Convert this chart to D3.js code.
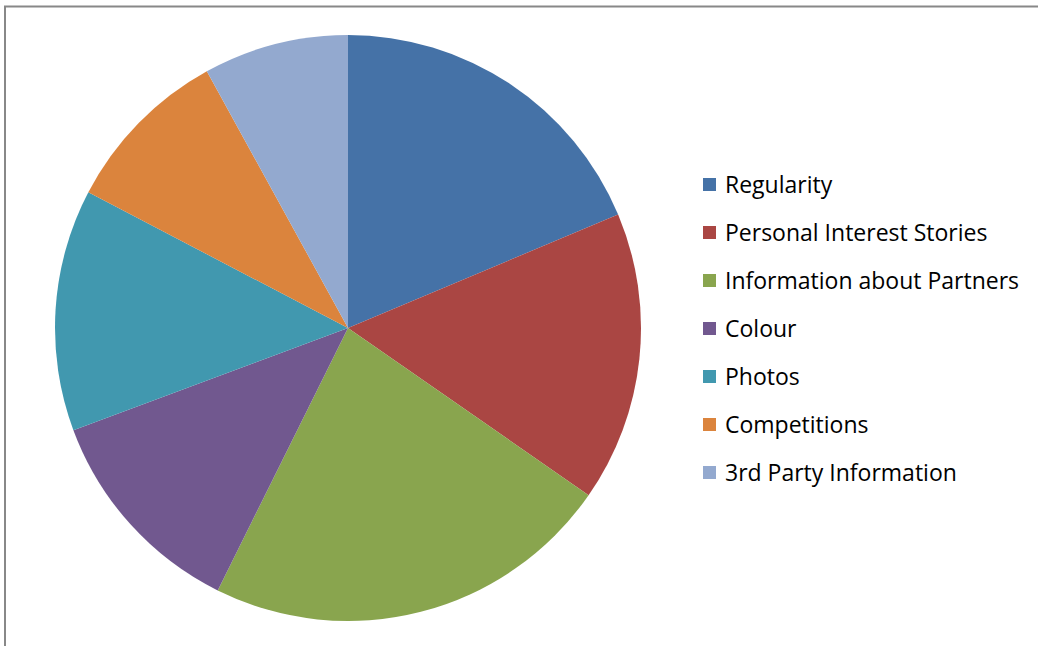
<!DOCTYPE html>
<html>
<head>
<meta charset="utf-8">
<script src="https://cdn.jsdelivr.net/npm/d3@7"></script>
<style>
  body { margin: 0; background: #fff; }
  svg { display: block; }
</style>
</head>
<body>
<div id="chart"></div>
<script>
// Chart data
const categories = ['Regularity', 'Personal Interest Stories', 'Information about Partners',
    'Colour', 'Photos', 'Competitions', '3rd Party Information'];
const values = [14, 12, 17, 9, 10, 7, 6];
const colors = ['#4572A7', '#AA4643', '#89A54E', '#71588F', '#4198AF', '#DB843D', '#93A9CF'];

const width = 1038, height = 646;

const svg = d3.select('#chart')
    .append('svg')
    .attr('width', width)
    .attr('height', height);

// Chart area border (top and left visible)
svg.append('rect')
    .attr('x', 5)
    .attr('y', 6.5)
    .attr('width', width + 10)
    .attr('height', height + 10)
    .attr('fill', '#fff')
    .attr('stroke', '#888')
    .attr('stroke-width', 2);

const cx = 348, cy = 328, radius = 293;

const pie = d3.pie().sort(null).value(d => d.value);
const arc = d3.arc().innerRadius(0).outerRadius(radius);

const data = categories.map((c, i) => ({ label: c, value: values[i] }));

const g = svg.append('g')
    .attr('transform', `translate(${cx}, ${cy})`);

g.selectAll('path')
    .data(pie(data))
    .join('path')
    .attr('d', arc)
    .attr('fill', (d, i) => colors[i]);

// Legend
const legendX = 703, legendY = 178, rowGap = 48;

const legend = svg.append('g');
categories.forEach((c, i) => {
    legend.append('rect')
        .attr('x', legendX)
        .attr('y', legendY + i * rowGap)
        .attr('width', 13)
        .attr('height', 13)
        .attr('fill', colors[i]);

    legend.append('text')
        .attr('x', legendX + 22)
        .attr('y', legendY + i * rowGap + 6.5)
        .attr('dy', '0.35em')
        .attr('font-family', '"Open Sans", "Noto Sans", sans-serif')
        .attr('font-size', '23px')
        .attr('fill', '#000')
        .text(c);
});
</script>
</body>
</html>
